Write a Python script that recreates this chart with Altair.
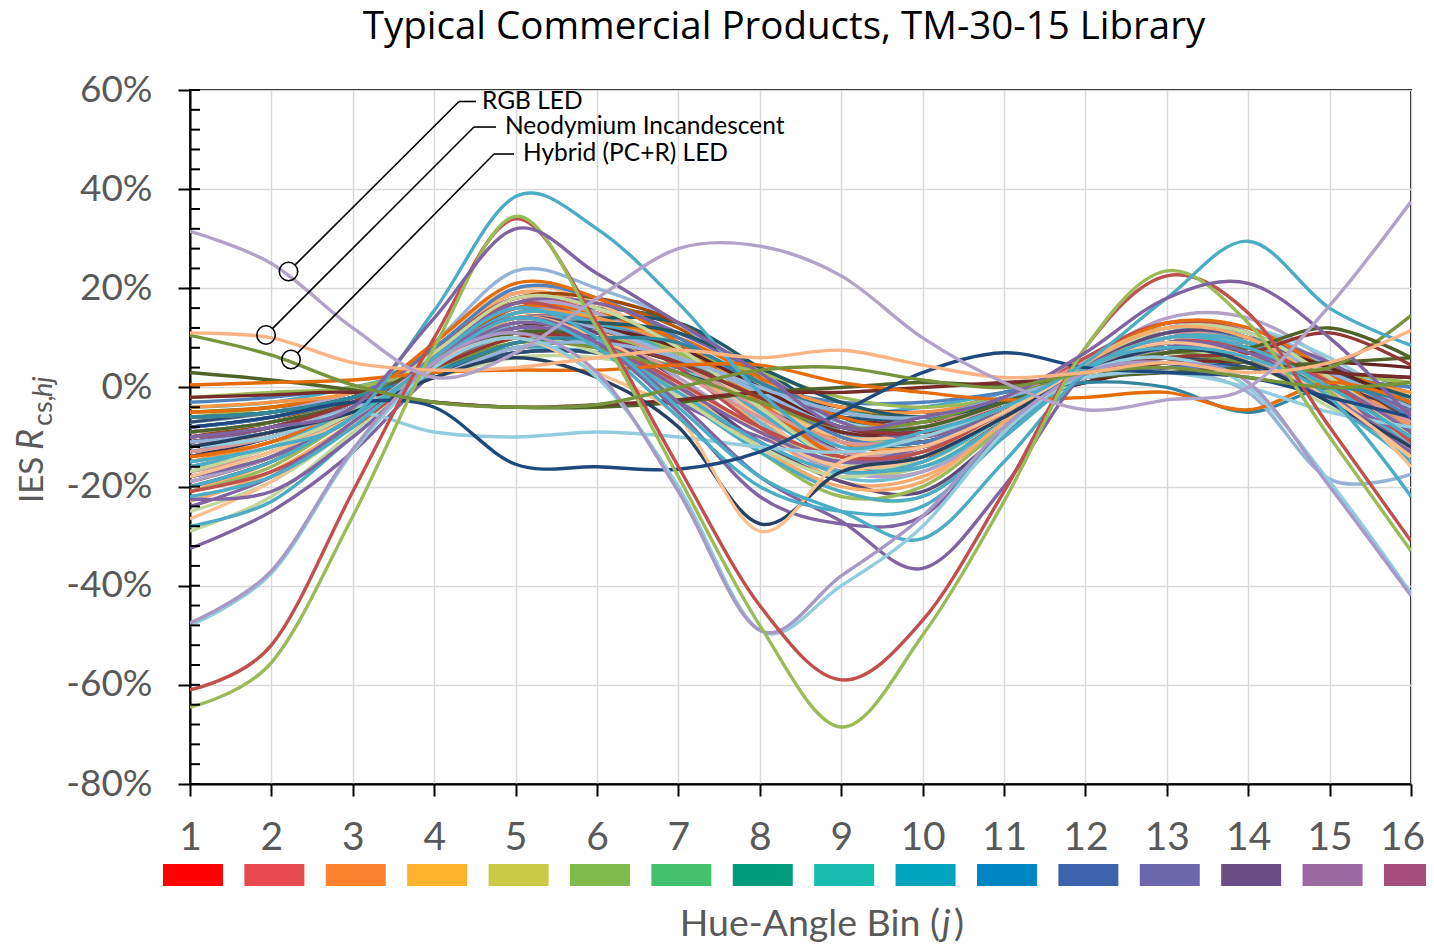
import altair as alt
import pandas as pd

# ---------------- data ----------------
bins = list(range(1, 17))
y_major = [-80, -60, -40, -20, 0, 20, 40, 60]
y_minor = list(range(-80, 61, 4))
bin_colors = ["#FF0000", "#E84B4F", "#FB812E", "#FEB22A", "#CBCA46", "#7FBA4C",
              "#41C06D", "#009C7C", "#16BCB0", "#00A4BF", "#0085C3", "#3B62AA",
              "#6C66AD", "#6B4D86", "#9C69A0", "#A64D7B"]

series_colors = [
    # typical band
    "#4F81BD", "#C0504D", "#9BBB59", "#8064A2", "#4BACC6", "#F79646",
    "#2C4D75", "#772C2A", "#5F7530", "#4D3B62", "#276A7C", "#B65708",
    "#729ACA", "#CD7371", "#AFC97A", "#9983B5", "#6FBDD1", "#F9AB6B",
    "#1F497D", "#E46C0A", "#D99694", "#C3D69B", "#B3A2C7", "#93CDDD",
    "#FAC090", "#95B3D7", "#376092", "#632523", "#4F6228", "#3F3151",
    "#215968", "#984807", "#4F81BD", "#C0504D", "#9BBB59", "#8064A2",
    "#4BACC6", "#F79646", "#2C4D75", "#772C2A", "#E46C0A", "#D99694",
    "#93CDDD", "#B3A2C7", "#FAC090",
    "#F79646", "#4F81BD", "#E46C0A", "#8064A2", "#4BACC6", "#9BBB59",
    "#B3A2C7", "#D99694", "#215968", "#632523", "#95B3D7", "#C3D69B",
    # lower band
    "#C3D69B", "#604A7B", "#9BBB59", "#F9AB6B", "#4BACC6",
    "#8064A2", "#C3D69B", "#4BACC6", "#FAC090", "#8064A2", "#C0504D",
    # distinctive lines
    "#4F6228", "#772C2A", "#77933C", "#4F6228", "#953735", "#31859C",
    "#95B3D7", "#E46C0A", "#93CDDD",
    "#8064A2", "#8064A2", "#254061", "#FAC090", "#4BACC6", "#4BACC6",
    "#1F497D", "#93CDDD", "#A898C6",
    "#C0504D", "#9BBB59", "#4BACC6", "#8064A2",
    "#77933C", "#FAB484", "#B3A2C7",
]

series_values = [
    [-8, -6, -2, 6, 13, 11, 5, -3, -9, -8, -3, 3, 8, 7, 2, -4],
    [-14, -10, -4, 8, 18, 15, 7, -5, -14, -12, -4, 5, 11, 9, 2, -9],
    [-6, -4, -1, 4, 10, 8, 4, -2, -8, -7, -2, 2, 6, 5, 1, -3],
    [-17, -12, -5, 8, 19, 16, 8, -6, -17, -15, -6, 5, 13, 11, 3, -10],
    [-4, -3, 0, 4, 8, 7, 3, -1, -5, -4, -1, 2, 5, 4, 1, -2],
    [-11, -8, -3, 7, 15, 13, 6, -4, -12, -10, -3, 4, 9, 8, 2, -6],
    [-13, -10, -4, 5, 13, 12, 7, -2, -10, -11, -5, 2, 6, 5, 0, -8],
    [-9, -7, -3, 3, 9, 9, 5, -1, -6, -7, -3, 2, 5, 5, 3, 2],
    [-5, -4, -2, 3, 8, 9, 6, 1, -4, -6, -3, 1, 5, 6, 4, 0],
    [-16, -12, -5, 6, 16, 15, 9, -2, -13, -14, -7, 3, 10, 9, 1, -11],
    [-10, -8, -3, 6, 15, 16, 13, 2, -10, -12, -6, 3, 11, 10, 2, -7],
    [-12, -9, -3, 7, 17, 17, 12, 1, -11, -12, -5, 4, 10, 9, 1, -8],
    [-7, -5, -1, 5, 11, 10, 5, -2, -8, -6, -1, 4, 8, 7, 3, -3],
    [-15, -11, -4, 8, 18, 16, 8, -4, -14, -12, -4, 6, 12, 10, 3, -6],
    [-18, -13, -5, 7, 16, 13, 4, -7, -17, -16, -7, 4, 11, 9, 0, -13],
    [-13, -9, -3, 7, 16, 14, 7, -3, -13, -12, -4, 5, 12, 12, 4, -7],
    [-20, -15, -6, 7, 17, 14, 5, -7, -18, -17, -7, 4, 12, 10, 0, -15],
    [-21, -15, -6, 8, 19, 16, 6, -8, -19, -18, -8, 5, 13, 11, 1, -14],
    [-11, -8, -3, 4, 11, 11, 6, -1, -8, -9, -4, 3, 7, 6, 3, -5],
    [-9, -7, -2, 7, 16, 15, 9, -1, -9, -9, -3, 4, 9, 9, 4, -2],
    [-10, -7, -2, 6, 13, 12, 6, -2, -9, -8, -2, 5, 10, 8, 2, -3],
    [-7, -5, -2, 2, 6, 6, 3, -2, -6, -6, -2, 3, 6, 6, 3, 1],
    [-16, -12, -5, 7, 17, 15, 6, -6, -16, -15, -6, 5, 14, 14, 5, -9],
    [-14, -10, -4, 6, 14, 12, 5, -5, -13, -12, -4, 4, 11, 12, 6, -4],
    [-17, -12, -4, 9, 20, 17, 7, -6, -16, -15, -6, 5, 13, 11, 2, -12],
    [-19, -14, -5, 9, 23.5, 20, 13, 0, -12, -13, -6, 4, 11, 12, 4, -8],
    [-12, -9, -4, 3, 9, 9, 5, -1, -7, -8, -4, 1, 4, 4, 0, -6],
    [-6, -5, -2, 3, 7, 7, 4, 0, -4, -5, -3, 1, 4, 4, 5, 4],
    [-11, -8, -3, 5, 12, 11, 6, -2, -10, -11, -5, 3, 9, 8, 4, -3],
    [-14, -10, -4, 4, 11, 11, 7, -1, -9, -11, -6, 2, 8, 8, 2, -9],
    [-8, -6, -2, 5, 13, 14, 13, 4, -6, -9, -5, 2, 8, 8, 3, -4],
    [-10, -7, -2, 8, 18, 18, 13, 2, -9, -11, -5, 3, 9, 9, 2, -6],
    [-3, -2, 0, 3, 7, 7, 4, 0, -3, -3, -1, 2, 4, 4, 2, 0],
    [-19, -14, -5, 8, 17, 13, 4, -8, -17, -14, -5, 6, 13, 11, 0, -14],
    [-9, -7, -3, 6, 14, 13, 7, -2, -10, -10, -4, 3, 9, 9, 4, -4],
    [-11, -8, -3, 6, 14, 13, 8, 0, -8, -9, -4, 2, 8, 10, 5, -5],
    [-13, -10, -4, 5, 13, 13, 9, 1, -9, -10, -4, 3, 9, 9, 4, -5],
    [-15, -11, -5, 6, 15, 14, 8, -2, -11, -12, -5, 3, 10, 10, 3, -8],
    [-7, -5, -2, 3, 7, 7, 3, -2, -6, -6, -2, 3, 6, 4, 0, -4],
    [-12, -9, -4, 4, 10, 9, 5, -2, -9, -9, -4, 3, 8, 7, 2, -6],
    [-5, -4, -1, 5, 12, 13, 10, 2, -6, -8, -4, 2, 7, 7, 3, -1],
    [-17, -13, -5, 4, 11, 10, 3, -6, -13, -13, -5, 4, 10, 9, 2, -9],
    [-9, -7, -3, 4, 10, 10, 6, 0, -7, -8, -3, 3, 8, 8, 3, -2],
    [-6, -5, -1, 5, 11, 10, 5, -2, -8, -7, -2, 4, 9, 8, 3, -3],
    [-12, -9, -3, 5, 12, 11, 5, -3, -10, -9, -3, 4, 9, 8, 2, -5],
    [-4, -3, -1, 6, 14, 12, 6, 1, -4, -5, -2, 3, 7, 6, 2, -1],
    [-8, -6, -2, 8, 20, 18, 10, 0, -10, -11, -5, 3, 10, 10, 3, -6],
    [-14, -11, -4, 9, 21, 18, 9, -3, -14, -14, -6, 5, 13, 12, 3, -10],
    [-10, -8, -3, 7, 17, 17, 11, 3, -7, -10, -5, 2, 9, 9, 3, -5],
    [-16, -12, -4, 6, 15, 13, 6, -5, -15, -16, -7, 3, 11, 11, 2, -11],
    [-2, -1, 0, 4, 10, 10, 7, 3, -2, -4, -2, 2, 5, 5, 3, 1],
    [-19, -14, -6, 5, 13, 10, 2, -9, -17, -17, -8, 3, 10, 9, -1, -13],
    [-13, -10, -4, 6, 14, 12, 5, -4, -11, -10, -3, 5, 11, 9, 1, -7],
    [-6, -5, -2, 4, 12, 13, 11, 4, -3, -6, -3, 2, 7, 7, 3, -2],
    [-11, -9, -4, 4, 12, 12, 8, 0, -8, -9, -4, 2, 7, 8, 4, -4],
    [-9, -7, -3, 5, 13, 12, 6, -1, -8, -8, -3, 4, 10, 9, 3, -4],
    [-17, -12, -5, 7, 18, 16, 8, -4, -15, -15, -6, 4, 12, 11, 2, -10],
    # lower band
    [-25, -19, -8, 5, 13, 10, 0, -12, -21, -22, -9, 5, 12, 10, 0, -15],
    [-20, -15, -6, 6, 14, 11, 1, -11, -19, -21, -9, 4, 11, 10, -1, -13],
    [-21, -16, -6, 4, 12, 9, -1, -13, -22, -20, -8, 4, 10, 9, -1, -14],
    [-23, -17, -7, 5, 14, 10, 0, -12, -20, -19, -7, 5, 12, 10, 0, -13],
    [-18, -14, -6, 5, 12, 8, -2, -13, -21, -22, -10, 3, 10, 9, 0, -12],
    [-32.5, -25, -13, 3, 12, 8, -3, -10, -15, -12, -5, 3, 8, 5, -2, -10],
    [-29, -22, -9, 4, 10, 7, -2, -12, -18, -14, -6, 2, 7, 5, -4, -12],
    [-28, -23, -10, 3, 11, 8, -1, -11, -17, -15, -6, 3, 8, 6, -3, -15],
    [-26.5, -19, -7, 6, 14, 10, 1, -9, -16, -14, -5, 4, 10, 8, 0, -16],
    [-22.5, -21, -10, 4, 12, 9, 0, -9, -15, -13, -5, 3, 8, 7, 1, -9],
    [-21, -17, -8, 4, 11, 9, 1, -8, -14, -13, -5, 3, 9, 8, 1, -11],
    # distinctive lines
    [3, 1.5, -0.5, -3, -4, -4, -3, -1, 0, 1, 0.5, 2, 3, 4, 5, 6],
    [-2, -1.5, -1, -3, -4, -3.5, -2.5, -1, -1, 0, 1, 2, 5, 5, 3, 2],
    [-6, -5, -2, 4, 9, 8, 3, -3, -8, -7, -2, 3, 7, 5, 4, 14.5],
    [-9, -7, -3, 5, 11, 10, 5, -2, -8, -8, -3, 3, 7, 8, 12, 6],
    [-10, -8, -3, 4, 10, 10, 5, -2, -8, -9, -4, 3, 6, 7, 11, 4.5],
    [-6, -5, -2, 3, 9, 10, 9, 1, -5, -6, -2, 1, 0, -5, 0, -3],
    [-11, -9, -4, 2, 8, 9, 6, 0, -5, -6, -2, 2, 3, -1, -18.5, -17.5],
    [0.5, 1, 1.5, 3, 3.5, 3.5, 4.5, 4.5, 1, -1, -2.5, -2, -1, -4.5, 1, -3],
    [-12, -10, -5, -9, -10, -9, -10, -12, -13, -10, -4, 2, 3, 0, -5, -8],
    [-18, -14, -6, 5, 13, 9, -3, -18, -27, -36.5, -20, 3, 9, 7, -2, -12],
    [-24, -18, -7, 6, 14, 9, -5, -22, -27.5, -26, -9, 4, 9, 6, -3, -13],
    [-12, -9, -5, 2, 6, 2, -8, -27.5, -17, -14, -6, 3, 8, 5, -3, -12],
    [-18, -13, -6, 5, 10, 3, -6, -29, -15, -12, -5, 4, 9, 6, -2, -14],
    [-22, -18, -8, 6, 16, 10, -4, -18, -25, -30.5, -15, 3, 10, 8, 0, -10],
    [-20, -15, -6, 5, 14, 8, -6, -20, -25, -24, -10, 4, 8, 6, -2, -22],
    [-8, -6, -3, -4, -15.5, -16, -16.5, -13, -5, 3, 7, 4, 3, 2, -2, -6],
    [-48, -37.5, -13, 4, 10, 2, -20, -49, -40, -28, -9, 3, 6, 0, -19, -41.5],
    [-47.5, -37, -12.5, 5, 11, 3, -21, -49, -38, -26, -8, 3, 5, 1, -20, -42],
    [-61, -52, -21, 10, 34, 13, -16, -44, -59, -47, -21, 8, 22.5, 15, -8, -31],
    [-64.5, -55.5, -26, 8, 34.5, 12, -18, -48, -68.5, -50, -23, 8, 23.5, 13, -10, -33],
    [-15, -12, -6, 15.5, 38.5, 32, 17, -1, -12, -9, -4, 5, 18, 29.5, 16, 8.5],
    [-10, -8, -4, 14, 32, 23, 13, 3, -8, -6, -2, 7, 18, 21, 10, -6],
    # Hybrid (PC+R) LED, Neodymium Incandescent, RGB LED
    [10.5, 6.5, 0.5, -3, -4, -3.5, 0, 3.5, 4, 1.5, 0, 3, 4, 2, 0, 1],
    [11, 10, 5, 3.5, 4, 6, 7.5, 6, 7.5, 4.5, 2, 3, 5, 3, 5, 11.5],
    [31.5, 25, 12, 2, 7, 18, 28, 28.5, 22.5, 10, 1, -4.5, -2.5, 0, 16.5, 37.5],
]

ann_labels = ["RGB LED", "Neodymium Incandescent", "Hybrid (PC+R) LED"]
ann_circle_x = [2.210, 1.934, 2.241]
ann_circle_y = [23.38, 10.57, 5.63]
ann_elbow_x = [4.305, 4.489, 4.735]
ann_elbow_y = [57.68, 52.53, 47.09]
ann_end_x = [4.514, 4.759, 4.980]
ann_text_x = [4.587, 4.870, 5.091]

title_text = "Typical Commercial Products, TM-30-15 Library"

# ---------------- tables ----------------
rows = []
for i, (c, vals) in enumerate(zip(series_colors, series_values)):
    for b, v in zip(bins, vals):
        rows.append({"sid": i, "col": c, "bin": b, "val": v})
df = pd.DataFrame(rows)

rect_df = pd.DataFrame({"b": bins, "c": bin_colors,
                        "xl": [b - 0.332 for b in bins],
                        "xr": [b + 0.405 for b in bins]})
ann_df = pd.DataFrame({
    "label": ann_labels,
    "cx": ann_circle_x, "cy": ann_circle_y,
    "sx": [x + 0.0786 for x in ann_circle_x],
    "sy": [y + 1.29 for y in ann_circle_y],
    "ex": ann_elbow_x, "ey": ann_elbow_y,
    "hx": ann_end_x, "tx": ann_text_x,
})
minor_df = pd.DataFrame({"t": y_minor})

W, H = 1221, 694
xs = alt.Scale(domain=[1, 16], nice=False, zero=False)
ys = alt.Scale(domain=[-80, 60], nice=False, zero=False)

AXIS_FONT = "Lato, 'Open Sans', sans-serif"
GREY = "#595959"

XAX = alt.Axis(values=bins, format="d", title=None, grid=True,
               tickSize=12, labelFontSize=39, labelPadding=22,
               labelFlush=False, labelOverlap=False,
               labelOffset={"condition": {"test": "datum.value == 16", "value": -9},
                            "value": 0},
               labelFont=AXIS_FONT, labelColor=GREY)
YAX = alt.Axis(values=y_major, title=None, grid=True, tickSize=12,
               labelExpr="datum.value + '%'", labelFontSize=37,
               labelFlush=False, labelOverlap=False,
               labelPadding=26, labelFont=AXIS_FONT, labelColor=GREY)

lines = alt.Chart(df).mark_line(interpolate="cardinal", strokeWidth=3.4, clip=True).encode(
    x=alt.X("bin:Q", scale=xs, axis=XAX),
    y=alt.Y("val:Q", scale=ys, axis=YAX),
    color=alt.Color("col:N", scale=None),
    detail="sid:N",
    order=alt.Order("bin:Q"),
)

minor_ticks = alt.Chart(minor_df).mark_rule(color="black", strokeWidth=2).encode(
    y=alt.Y("t:Q", scale=ys, axis=YAX),
    x=alt.value(0), x2=alt.value(10),
)

rects = alt.Chart(rect_df).mark_rect().encode(
    x=alt.X("xl:Q", scale=xs, axis=XAX), x2="xr:Q",
    y=alt.value(774), y2=alt.value(796),
    color=alt.Color("c:N", scale=None),
)

circles = alt.Chart(ann_df).mark_point(shape="circle", size=340, filled=False,
                                       color="black", strokeWidth=1.6, opacity=1).encode(
    x=alt.X("cx:Q", scale=xs, axis=XAX), y=alt.Y("cy:Q", scale=ys, axis=YAX))
diag = alt.Chart(ann_df).mark_rule(color="black", strokeWidth=1.6).encode(
    x=alt.X("sx:Q", scale=xs, axis=XAX), y=alt.Y("sy:Q", scale=ys, axis=YAX),
    x2="ex:Q", y2="ey:Q")
horiz = alt.Chart(ann_df).mark_rule(color="black", strokeWidth=1.6).encode(
    x=alt.X("ex:Q", scale=xs, axis=XAX), y=alt.Y("ey:Q", scale=ys, axis=YAX),
    x2="hx:Q")
ann_text = alt.Chart(ann_df).mark_text(align="left", baseline="middle", fontSize=24.5,
                                       font=AXIS_FONT, color="black").encode(
    x=alt.X("tx:Q", scale=xs, axis=XAX), y=alt.Y("ey:Q", scale=ys, axis=YAX),
    text="label:N")

def label(text, x, y, size, style="normal", align="left", angle=0, color=GREY,
          font=AXIS_FONT, baseline="alphabetic"):
    kw = dict(align=align, baseline=baseline, fontSize=size, font=font,
              fontStyle=style, color=color)
    if angle:
        kw["angle"] = angle
    return alt.Chart(pd.DataFrame({"t": [text]})).mark_text(**kw).encode(
        x=alt.value(x), y=alt.value(y), text="t:N")

title = label(title_text, 594, -51, 38.5, align="center", color="black",
              font="'Open Sans', sans-serif")
xt1 = label("Hue-Angle Bin (", 750, 846, 37.5, align="right")
xt2 = label("j", 752, 846, 37.5, style="italic")
xt3 = label(")", 764, 846, 37.5)
yt1 = label("IES", -147, 413, 33, angle=270)
yt2 = label("R", -147, 360, 36, style="italic", angle=270)
yt3 = label("cs,", -138, 336, 27, angle=270)
yt4 = label("hj", -138, 307, 27, style="italic", angle=270)

chart = alt.layer(
    lines, minor_ticks, rects, circles, diag, horiz, ann_text,
    title, xt1, xt2, xt3, yt1, yt2, yt3, yt4,
).properties(
    width=W, height=H,
    autosize=alt.AutoSizeParams(type="none"),
    padding={"left": 182, "top": 82, "right": 15, "bottom": 159},
).configure_view(stroke="black", strokeWidth=2).configure_axis(
    domainColor="black", domainWidth=2, tickColor="black", tickWidth=2,
    gridColor="#D9D9D9", gridWidth=1.5,
)

chart.save("out.html", embed_options={"renderer": "svg", "actions": False})
